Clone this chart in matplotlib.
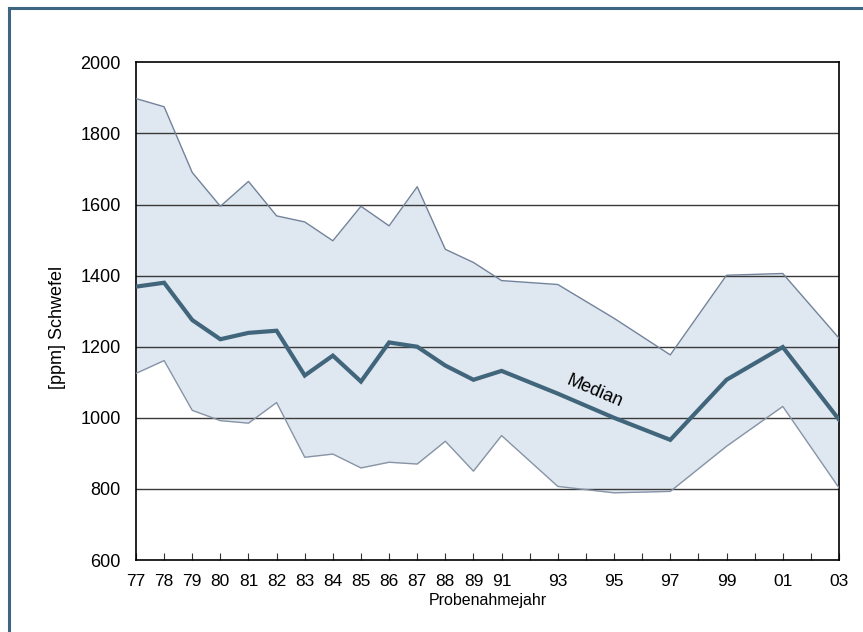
import matplotlib.pyplot as plt
from matplotlib.lines import Line2D

# Probenahmejahre (Kategorieachse, leere Beschriftung = Zwischenjahr ohne Probe)
jahr_labels = ['77', '78', '79', '80', '81', '82', '83', '84', '85', '86', '87',
               '88', '89', '91', '', '93', '', '95', '', '97', '', '99', '',
               '01', '', '03']

# Schwefelgehalte in ppm
maximum = [1898, 1875, 1690, 1595, 1665, 1568, 1551, 1498, 1595, 1540, 1650,
           1474, 1437, 1386, 1375, 1280, 1177, 1401, 1406, 1224]
median = [1369, 1380, 1275, 1221, 1239, 1245, 1119, 1175, 1102, 1212, 1200,
          1147, 1107, 1132, 1068, 1000, 938, 1107, 1199, 995]
minimum = [1125, 1161, 1021, 992, 985, 1043, 889, 898, 859, 875, 870,
           934, 850, 950, 807, 789, 793, 920, 1032, 803]

y_ticks = [600, 800, 1000, 1200, 1400, 1600, 1800, 2000]

# nur Jahre mit Beschriftung haben Messwerte
x = [i for i, lab in enumerate(jahr_labels) if lab]

plt.rcParams['font.family'] = ['Liberation Sans', 'DejaVu Sans']

fig = plt.figure(figsize=(8.63, 6.32), dpi=100)
ax = fig.add_axes([0.1576, 0.1139, 0.8146, 0.7875])

ax.fill_between(x, minimum, maximum, color='#dfe7f0', lw=0, zorder=1)
ax.plot(x, maximum, color='#72839b', lw=1.0, zorder=3)
ax.plot(x, minimum, color='#8794a6', lw=1.0, zorder=3)
ax.plot(x, median, color='#41667c', lw=3.0, zorder=4, solid_joinstyle='miter')

ax.set_xlim(0, len(jahr_labels) - 1)
ax.set_ylim(600, 2000)

for v in y_ticks[1:-1]:
    ax.axhline(v, color='#3a3a3a', lw=1.0, zorder=2)

ax.set_yticks(y_ticks)
ax.tick_params(axis='y', length=0, pad=11, labelsize=13)
ax.set_xticks(range(len(jahr_labels)))
ax.set_xticklabels(jahr_labels)
ax.tick_params(axis='x', direction='in', length=5, width=0.8, color='#333333',
               pad=10, labelsize=12.5)

for s in ax.spines.values():
    s.set_color('black')
    s.set_linewidth(1.2)

ax.set_ylabel('[ppm] Schwefel', fontsize=13)
ax.yaxis.set_label_coords(-0.099, 0.468)
ax.set_xlabel('Probenahmejahr', fontsize=11.5)
ax.xaxis.set_label_coords(0.5, -0.066)

ax.text(16.3, 1075, 'Median', rotation=-23, fontsize=13,
        ha='center', va='center', rotation_mode='anchor', zorder=5)

# Rahmen oben und links
fig.add_artist(Line2D([9 / 863, 9 / 863], [0, 1 - 8 / 632], transform=fig.transFigure,
                      color='#3f6680', lw=2.2))
fig.add_artist(Line2D([9 / 863, 1], [1 - 8 / 632, 1 - 8 / 632], transform=fig.transFigure,
                      color='#3f6680', lw=2.2))

fig.savefig('out.png', dpi=100)
